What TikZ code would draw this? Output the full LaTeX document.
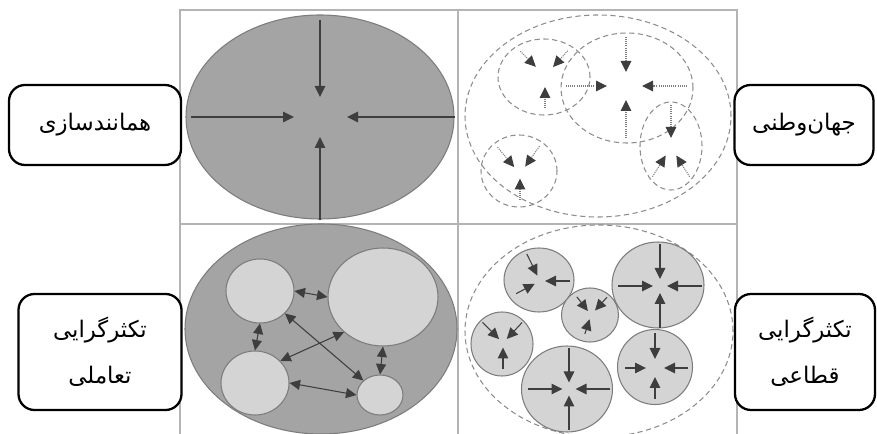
\documentclass[tikz,border=0pt]{standalone}
\usepackage{fontspec}
\newfontfamily\farsi[Script=Arabic]{DejaVu Sans}
\TeXXeTstate=1
\usetikzlibrary{arrows.meta,shapes.geometric}
\definecolor{framegray}{HTML}{B4B4B4}
\definecolor{rimgray}{HTML}{7C7C7C}
\definecolor{massgray}{HTML}{A4A4A4}
\definecolor{cellgray}{HTML}{D4D4D4}
\definecolor{dashgray}{HTML}{8C8C8C}
\definecolor{arrowgray}{HTML}{3E3E3E}
\tikzset{
    >=Stealth,
    panel/.style={draw=framegray, line width=0.8pt},
    mass/.style 2 args={ellipse, draw=rimgray, fill=massgray, line width=0.6pt, inner sep=0pt, minimum width=0.2mm*#1, minimum height=0.2mm*#2},
    cell/.style 2 args={ellipse, draw=rimgray, fill=cellgray, line width=0.6pt, inner sep=0pt, minimum width=0.2mm*#1, minimum height=0.2mm*#2},
    group/.style 2 args={ellipse, draw=dashgray, dash pattern=on 3pt off 2pt, line width=0.6pt, inner sep=0pt, minimum width=0.2mm*#1, minimum height=0.2mm*#2},
    pull/.style={draw=arrowgray, line width=0.6pt, -{Triangle[length=2.2mm,width=2.1mm,color=arrowgray]}},
    pulldot/.style={pull, dash pattern=on 0.6pt off 0.6pt, draw=dashgray!90!black},
    both/.style={draw=arrowgray, line width=0.6pt, {Triangle[length=2.1mm,width=2mm]}-{Triangle[length=2.1mm,width=2mm]}},
    caption/.style={draw=black, line width=1.3pt, rounded corners=3.2mm, fill=white, align=center, inner sep=0pt, font=\farsi\fontsize{13}{26}\selectfont}
}
\begin{document}
\begin{tikzpicture}[x=0.2mm, y=-0.2mm]
    \useasboundingbox (0,0) rectangle (877,434);
    % grid of the four panels
    \draw[panel] (180,434) -- (180,10) -- (737,10) -- (737,434);
    \draw[panel] (458,10) -- (458,434);
    \draw[panel] (180,224) -- (737,224);

    % top left: one mass
    \node[mass={268}{204}] (e1) at (320,117) {};
    \draw[pull, shorten <=1.2mm] (e1.north) -- ([yshift=4mm]e1.center);
    \draw[pull] (e1.south) -- ([yshift=-4mm]e1.center);
    \draw[pull, shorten <=1.2mm] (e1.west) -- ([xshift=-5.2mm]e1.center);
    \draw[pull] (e1.east) -- ([xshift=5.4mm]e1.center);

    % top right: overlapping dashed groups
    \node[group={266}{202}] (world) at (598,116) {};
    \node[group={92}{76}] (ga) at (544,77) {};
    \node[group={132}{110}] (gb) at (627,88) {};
    \node[group={62}{88}] (gc) at (671,146) {};
    \node[group={76}{72}] (gd) at (519,171) {};
    \coordinate (ca) at (545,76);
    \coordinate (cb) at (626,86);
    \coordinate (cc) at (671,147);
    \coordinate (cd) at (520,174);
    \foreach \a/\r/\t in {135/7mm/2.6mm, 48/6.8mm/2.4mm, 270/6.4mm/2.2mm}
        \draw[pulldot] ([shift={(\a:\r)}]ca) -- ([shift={(\a:\t)}]ca);
    \foreach \a/\r/\t in {90/9.8mm/2.8mm, 180/12mm/3.8mm, 0/12.2mm/3.2mm, 270/10.4mm/2.8mm}
        \draw[pulldot] ([shift={(\a:\r)}]cb) -- ([shift={(\a:\t)}]cb);
    \foreach \a/\r/\t in {90/8.4mm/1.8mm, 238/7mm/2mm, 302/7mm/2mm}
        \draw[pulldot] ([shift={(\a:\r)}]cc) -- ([shift={(\a:\t)}]cc);
    \foreach \a/\r/\t in {130/7mm/1.8mm, 55/6.8mm/1.8mm, 270/5.2mm/0.9mm}
        \draw[pulldot] ([shift={(\a:\r)}]cd) -- ([shift={(\a:\t)}]cd);

    % bottom left: parts inside one mass
    \node[mass={272}{210}] (e2) at (321,329) {};
    \node[cell={68}{64}] (p1) at (260,291) {};
    \node[cell={110}{98}] (p2) at (383,297) {};
    \node[cell={68}{64}] (p3) at (255,383) {};
    \node[cell={46}{40}] (p4) at (380,395) {};
    \draw[both] (p1.east) -- (p2.west);
    \draw[both] (p1.south) -- (p3.north);
    \draw[both] (p2.222) -- (p3.41);
    \draw[both] (p1.-42) -- (p4.139);
    \draw[both] (p2.south) -- (p4.north);
    \draw[both] (p3.east) -- (p4.west);

    % bottom right: closed parts inside a dashed group
    \node[group={268}{212}] (society) at (599,331) {};
    \node[cell={70}{64}] (q1) at (539,280) {};
    \node[cell={57}{54}] (q2) at (590,315) {};
    \node[cell={92}{86}] (q3) at (658,285) {};
    \node[cell={62}{64}] (q4) at (502,344) {};
    \node[cell={91}{86}] (q5) at (567,389) {};
    \node[cell={75}{75}] (q6) at (655,367) {};
    \coordinate (k1) at (540,281);
    \coordinate (k2) at (591,315);
    \coordinate (k3) at (660,286);
    \coordinate (k4) at (503,343);
    \coordinate (k5) at (569,389);
    \coordinate (k6) at (655,368);
    \foreach \a/\r/\t in {116/6mm/1.2mm, 208/5.4mm/1.2mm, 0/6mm/1mm}
        \draw[pull] ([shift={(\a:\r)}]k1) -- ([shift={(\a:\t)}]k1);
    \foreach \a/\r/\t in {128/4.6mm/1mm, 48/4.8mm/1.2mm, 252/4mm/0.9mm}
        \draw[pull] ([shift={(\a:\r)}]k2) -- ([shift={(\a:\t)}]k2);
    \foreach \a in {0,90,180,270}
        \draw[pull] ([shift={(\a:8.4mm)}]k3) -- ([shift={(\a:1.4mm)}]k3);
    \foreach \a/\r/\t in {135/5.8mm/1.1mm, 47/5.6mm/1.1mm, 270/5.2mm/0.9mm}
        \draw[pull] ([shift={(\a:\r)}]k4) -- ([shift={(\a:\t)}]k4);
    \foreach \a in {0,90,180,270}
        \draw[pull] ([shift={(\a:8.2mm)}]k5) -- ([shift={(\a:1.3mm)}]k5);
    \foreach \a/\r in {0/6.6mm, 90/7mm, 180/6mm, 270/6.2mm}
        \draw[pull] ([shift={(\a:\r)}]k6) -- ([shift={(\a:1.8mm)}]k6);

    % captions
    \node[caption, minimum width=34.4mm, minimum height=16mm] (assim) at (95,125) {\beginR همانندسازی\endR};
    \node[caption, minimum width=27.8mm, minimum height=16mm] (cosmo) at (804,125) {\beginR جهان^^^^200cوطنی\endR};
    \node[caption, minimum width=32.6mm, minimum height=23.2mm] (inter) at (100,352) {\beginR تکثرگرایی\endR\\\beginR تعاملی\endR};
    \node[caption, minimum width=28mm, minimum height=23.2mm] (segm) at (805,352) {\beginR تکثرگرایی\endR\\\beginR قطاعی\endR};
\end{tikzpicture}
\end{document}
